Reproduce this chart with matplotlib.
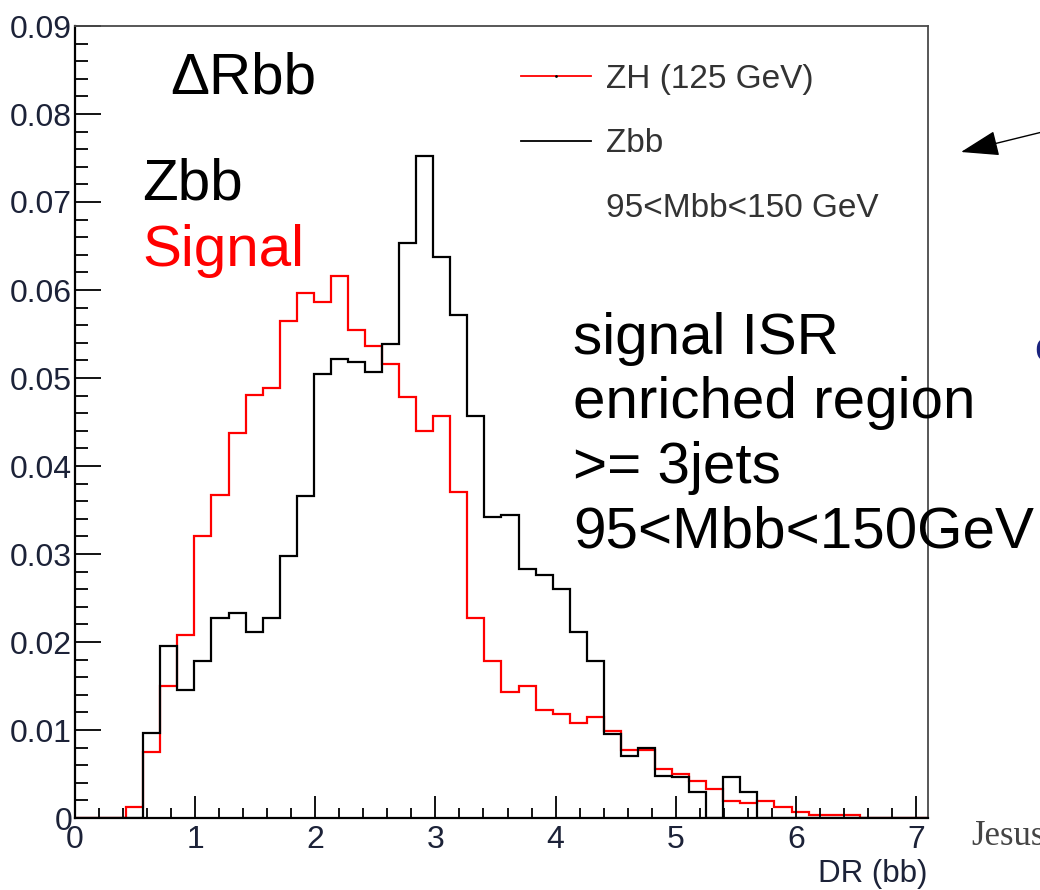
import numpy as np
import matplotlib
matplotlib.use("Agg")
import matplotlib.pyplot as plt
from matplotlib.lines import Line2D
from matplotlib.ticker import MultipleLocator

plt.rcParams["font.family"] = ["Liberation Sans", "DejaVu Sans"]

# 50 bins of DR(bb) over 0 - 7.1
bin_edges = np.linspace(0.0, 7.1, 51)

# ZH (125 GeV) signal, normalised
zh_values = [
    0.0, 0.0, 0.0, 0.0012, 0.0075, 0.0150, 0.0208, 0.0321, 0.0367, 0.0438,
    0.0481, 0.0489, 0.0565, 0.0597, 0.0586, 0.0616, 0.0555, 0.0536, 0.0516, 0.0478,
    0.0440, 0.0457, 0.0370, 0.0227, 0.0178, 0.0143, 0.0150, 0.0123, 0.0118, 0.0108,
    0.0115, 0.0099, 0.0077, 0.0077, 0.0056, 0.0050, 0.0042, 0.0033, 0.0019, 0.0017,
    0.0019, 0.0012, 0.0007, 0.0003, 0.0003, 0.0003, 0.0, 0.0, 0.0, 0.0,
]

# Zbb background, normalised
zbb_values = [
    0.0, 0.0, 0.0, 0.0, 0.0097, 0.0195, 0.0145, 0.0178, 0.0227, 0.0233,
    0.0211, 0.0227, 0.0298, 0.0366, 0.0505, 0.0522, 0.0518, 0.0507, 0.0539, 0.0653,
    0.0752, 0.0637, 0.0572, 0.0457, 0.0342, 0.0344, 0.0283, 0.0276, 0.0260, 0.0211,
    0.0178, 0.0096, 0.0070, 0.0080, 0.0048, 0.0047, 0.0030, 0.0, 0.0047, 0.0030,
    0.0, 0.0, 0.0, 0.0, 0.0, 0.0, 0.0, 0.0, 0.0, 0.0,
]

x_ticks = [0, 1, 2, 3, 4, 5, 6, 7]
y_ticks = [0, 0.01, 0.02, 0.03, 0.04, 0.05, 0.06, 0.07, 0.08, 0.09]
y_tick_labels = ["0", "0.01", "0.02", "0.03", "0.04", "0.05", "0.06", "0.07", "0.08", "0.09"]

W, H = 1040, 890
fig = plt.figure(figsize=(W / 100, H / 100), dpi=100)
ax = fig.add_axes([75 / W, 1 - 818 / H, (928 - 75) / W, (818 - 26) / H])

ax.stairs(zh_values, bin_edges, baseline=0, color="#ff0000", lw=1.6)
ax.stairs(zbb_values, bin_edges, baseline=0, color="black", lw=1.6)

ax.set_xlim(0, 7.1)
ax.set_ylim(0, 0.09)
ax.set_xticks(x_ticks)
ax.set_yticks(y_ticks)
ax.set_yticklabels(y_tick_labels)
ax.xaxis.set_minor_locator(MultipleLocator(0.2))
ax.yaxis.set_minor_locator(MultipleLocator(0.002))

tick_col = "#1c2238"
ax.tick_params(axis="y", which="major", direction="in", length=18.5, width=1.3,
               labelsize=23, pad=2, colors="black", labelcolor=tick_col)
ax.tick_params(axis="y", which="minor", direction="in", length=9.5, width=1.3)
ax.tick_params(axis="x", which="major", direction="in", length=15.5, width=1.3,
               labelsize=23, pad=5, colors="black", labelcolor=tick_col)
ax.tick_params(axis="x", which="minor", direction="in", length=7.5, width=1.3)
ax.tick_params(top=False, right=False, which="both")

for side in ("left", "bottom"):
    ax.spines[side].set_linewidth(1.6)
    ax.spines[side].set_color("black")
for side in ("top", "right"):
    ax.spines[side].set_linewidth(1.3)
    ax.spines[side].set_color("#4a4a4a")

ax.set_xlabel("DR (bb)", fontsize=22.5, color=tick_col, loc="right", labelpad=3)

# legend, ROOT style
handles = [
    Line2D([], [], color="#ff0000", lw=1.3, marker=".", markersize=2,
           markerfacecolor="black", markeredgecolor="black"),
    Line2D([], [], color="black", lw=1.3),
    Line2D([], [], color="none"),
]
labels = ["ZH (125 GeV)", "Zbb", "95<Mbb<150 GeV"]
leg = ax.legend(handles, labels, loc="upper left", bbox_to_anchor=(0.523, 0.952),
                frameon=False, fontsize=24, handlelength=2.1, handletextpad=0.45,
                labelspacing=1.0, borderpad=0, borderaxespad=0)
for t in leg.get_texts():
    t.set_color("#333333")

big = 42
fig.text(170 / W, 1 - 93 / H, "\u0394Rbb", fontsize=big, color="black", va="baseline")
fig.text(142 / W, 1 - 200 / H, "Zbb", fontsize=big, color="black", va="baseline")
fig.text(142 / W, 1 - 266 / H, "Signal", fontsize=big, color="#ff0000", va="baseline")

fig.text(573 / W, 1 - 354 / H, "signal ISR", fontsize=big, va="baseline")
fig.text(573 / W, 1 - 418 / H, "enriched region", fontsize=big, va="baseline")
fig.text(573 / W, 1 - 483 / H, ">= 3jets", fontsize=big, va="baseline")
fig.text(573 / W, 1 - 547 / H, "95<Mbb<150GeV", fontsize=big, va="baseline")

# leftovers from the slide around the plot
fig.text(971 / W, 1 - 845 / H, "Jesus", fontsize=25, color="#444444",
         family="Liberation Serif", va="baseline")
fig.text(1034 / W, 1 - 361 / H, "e", fontsize=30, color="#1a237e", va="baseline")
ax.annotate("", xy=(961 / W, 1 - 152 / H), xytext=(1.01, 1 - 130 / H),
            xycoords="figure fraction", textcoords="figure fraction",
            arrowprops=dict(arrowstyle="-|>,head_length=1.2,head_width=0.4",
                            color="black", lw=1.0, mutation_scale=20,
                            shrinkA=0, shrinkB=0))

fig.savefig("out.png", dpi=100)
